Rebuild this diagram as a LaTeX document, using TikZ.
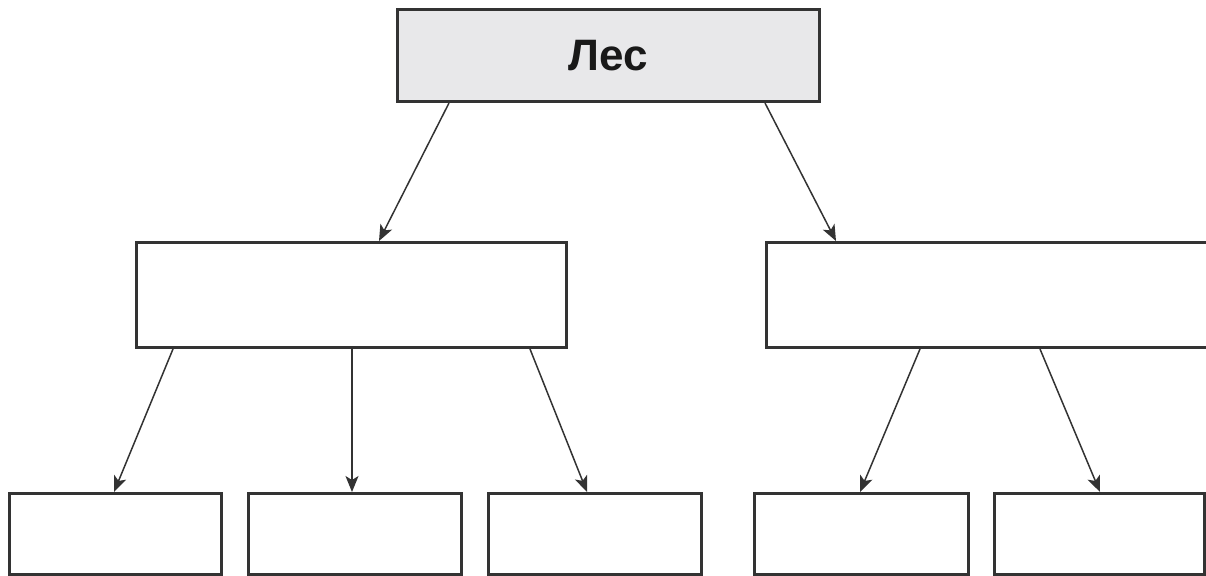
\documentclass[tikz,border=0pt]{standalone}
\usepackage{fontspec}
\setmainfont{Liberation Sans}
\usetikzlibrary{positioning, arrows.meta}
\definecolor{boxgray}{HTML}{E8E8EA}
\definecolor{edgegray}{HTML}{333333}
\tikzset{
    box/.style={draw=edgegray, line width=1.5pt, inner sep=0pt, anchor=north west},
    arr/.style={-{Stealth[length=8pt, width=6.5pt, inset=2pt]}, line width=0.75pt, draw=edgegray}
}

\begin{document}
\begin{tikzpicture}[x=0.5pt, y=-0.5pt]
                \useasboundingbox (0,0) rectangle (1206,575);
                %Nodes
                \node[box, fill=boxgray, minimum width=211pt, minimum height=46pt] at (396,8) (les)
                    {\fontsize{22pt}{26pt}\selectfont\bfseries\color{black!90} Лес};
                \node[box, minimum width=215pt, minimum height=52.5pt] at (135,241) (midL) {};
                \node[box, minimum width=230pt, minimum height=52.5pt] at (765,241) (midR) {};
                \node[box, minimum width=106pt, minimum height=40.5pt] at (8,492)   (b1) {};
                \node[box, minimum width=106.5pt, minimum height=40.5pt] at (247,492) (b2) {};
                \node[box, minimum width=106.5pt, minimum height=40.5pt] at (487,492) (b3) {};
                \node[box, minimum width=107pt, minimum height=40.5pt] at (753,492) (b4) {};
                \node[box, minimum width=105pt, minimum height=40.5pt] at (993,492) (b5) {};


                %Lines
                \draw[arr] ([xshift=26.5pt]les.south west) -- ([xshift=122pt]midL.north west);
                \draw[arr] ([xshift=184.5pt]les.south west) -- ([xshift=35.5pt]midR.north west);
                \draw[arr] ([xshift=19pt]midL.south west) -- ([xshift=53pt]b1.north west);
                \draw[arr] ([xshift=108.5pt]midL.south west) -- ([xshift=52.5pt]b2.north west);
                \draw[arr] ([xshift=197.5pt]midL.south west) -- ([xshift=50pt]b3.north west);
                \draw[arr] ([xshift=77.5pt]midR.south west) -- ([xshift=53.5pt]b4.north west);
                \draw[arr] ([xshift=137.5pt]midR.south west) -- ([xshift=53.5pt]b5.north west);
            \end{tikzpicture}
\end{document}
